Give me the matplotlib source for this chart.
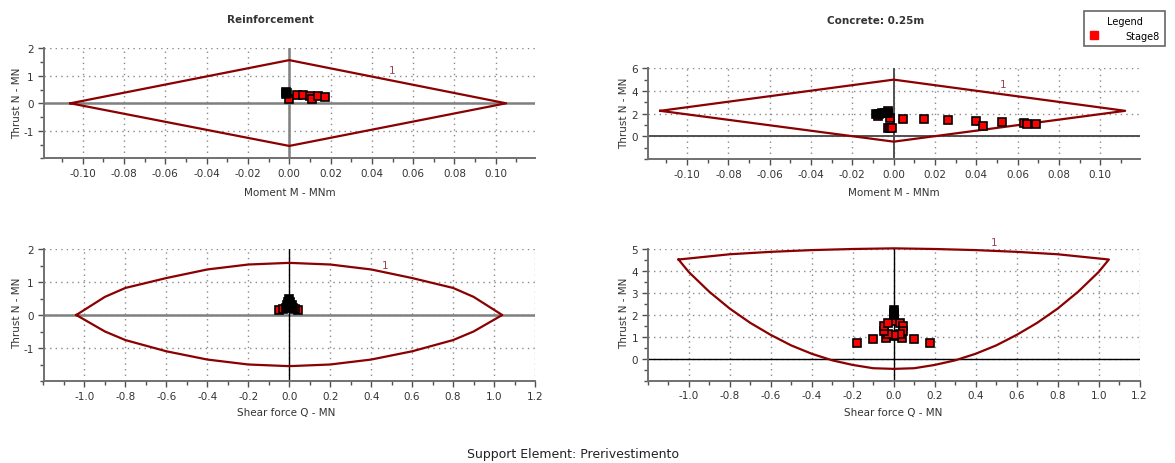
import matplotlib
matplotlib.use('Agg')
import matplotlib.pyplot as plt
from matplotlib.lines import Line2D
from matplotlib.ticker import FuncFormatter, MultipleLocator

# Reinforcement: moment - thrust envelope
rm_env_M = [-0.106, 0.0, 0.105, 0.0, -0.106]
rm_env_N = [0.0, 1.57, 0.0, -1.55, 0.0]
rm_red_M = [0.0, 0.0037, 0.0068, 0.010, 0.0108, 0.0137, 0.0173]
rm_red_N = [0.16, 0.30, 0.29, 0.27, 0.17, 0.25, 0.23]
rm_blk_M = [-0.0018, -0.0012, -0.0015]
rm_blk_N = [0.42, 0.38, 0.35]

# Concrete 0.25m: moment - thrust envelope
cm_env_M = [-0.113, 0.0, 0.112, 0.0, -0.113]
cm_env_N = [2.25, 5.0, 2.25, -0.47, 2.25]
cm_red_M = [-0.0075, -0.0026, -0.0016, 0.0047, 0.0148, 0.0264, 0.0397, 0.043, 0.0524, 0.063, 0.0645, 0.0687, -0.003, -0.002, -0.001]
cm_red_N = [1.8, 2.22, 1.66, 1.57, 1.49, 1.40, 1.32, 0.89, 1.26, 1.20, 1.06, 1.12, 0.72, 0.72, 0.72]
cm_blk_M = [-0.0085, -0.007, -0.0055, -0.004, -0.003]
cm_blk_N = [1.95, 2.0, 2.05, 2.1, 2.1]

# Reinforcement: shear - thrust envelope
rq_env_Q = [-1.04, -0.9, -0.8, -0.6, -0.4, -0.2, 0.0, 0.2, 0.4, 0.6, 0.8, 0.9, 1.04,
            0.9, 0.8, 0.6, 0.4, 0.2, 0.0, -0.2, -0.4, -0.6, -0.8, -0.9, -1.04]
rq_env_N = [0.0, 0.55, 0.82, 1.12, 1.38, 1.53, 1.58, 1.53, 1.38, 1.12, 0.82, 0.55, 0.0,
            -0.5, -0.76, -1.1, -1.35, -1.5, -1.55, -1.5, -1.35, -1.1, -0.76, -0.5, 0.0]
rq_red_Q = [-0.049, 0.044, -0.03, 0.03]
rq_red_N = [0.15, 0.15, 0.19, 0.19]
rq_blk_Q = [0.0, -0.006, 0.006, -0.012, 0.012, -0.014, 0.016, 0.0]
rq_blk_N = [0.47, 0.40, 0.40, 0.31, 0.31, 0.22, 0.22, 0.26]

# Concrete 0.25m: shear - thrust envelope
cq_env_Q = [-1.05, -0.8, -0.6, -0.4, -0.2, 0.0, 0.2, 0.4, 0.6, 0.8, 1.05,
            1.0, 0.9, 0.8, 0.7, 0.6, 0.5, 0.4, 0.3, 0.2, 0.1, 0.0,
            -0.1, -0.2, -0.3, -0.4, -0.5, -0.6, -0.7, -0.8, -0.9, -1.0, -1.05]
cq_env_N = [4.52, 4.76, 4.87, 4.95, 5.0, 5.03, 5.0, 4.95, 4.87, 4.76, 4.52,
            3.95, 3.05, 2.28, 1.63, 1.08, 0.6, 0.22, -0.08, -0.29, -0.44, -0.47,
            -0.44, -0.29, -0.08, 0.22, 0.6, 1.08, 1.63, 2.28, 3.05, 3.95, 4.52]
cq_red_Q = [-0.18, -0.099, -0.040, 0.040, 0.10, 0.178, 0.0,
            0.0, 0.03, 0.046, 0.046, 0.03, 0.0, -0.03, -0.046, -0.046, -0.03]
cq_red_N = [0.70, 0.91, 0.96, 0.96, 0.88, 0.70, 1.02,
            1.72, 1.64, 1.48, 1.26, 1.12, 1.06, 1.12, 1.26, 1.48, 1.64]
cq_blk_Q = [0.0, 0.0, 0.0]
cq_blk_N = [2.2, 2.1, 2.0]

W, H = 1175, 464
env_color = '#8b0000'
grid_color = '#8a8a8a'
text_color = '#333333'

plt.rcParams['font.family'] = ['DejaVu Sans']
fig = plt.figure(figsize=(W / 100, H / 100), dpi=100)


def rect(x0, x1, ytop, ybot):
    return [x0 / W, 1 - ybot / H, (x1 - x0) / W, (ybot - ytop) / H]


def fmt(dec):
    return FuncFormatter(lambda v, p: ('%.' + str(dec) + 'f') % (0 if abs(v) < 1e-9 else v))


def setup(ax, xlim, ylim, xticks, xminor, yticks, yminor, xdec, hcol, vcol, hlw, vlw):
    ax.set_xlim(*xlim)
    ax.set_ylim(*ylim)
    ax.set_xticks(xticks)
    ax.set_yticks(yticks)
    ax.xaxis.set_minor_locator(MultipleLocator(xminor))
    ax.yaxis.set_minor_locator(MultipleLocator(yminor))
    ax.xaxis.set_major_formatter(fmt(xdec))
    ax.yaxis.set_major_formatter(FuncFormatter(lambda v, p: '%d' % round(v)))
    for s in ['top', 'right']:
        ax.spines[s].set_visible(False)
    for s in ['left', 'bottom']:
        ax.spines[s].set_color('#707070')
        ax.spines[s].set_linewidth(1.4)
    ax.tick_params(which='both', colors='#505050', labelcolor=text_color, labelsize=7.5,
                   direction='out', width=1.0)
    ax.tick_params(which='major', length=4, pad=3)
    ax.tick_params(which='minor', length=3)
    ax.grid(True, which='major', linestyle=(0, (1, 3)), color=grid_color, linewidth=1.0)
    ax.axhline(0, color=hcol, linewidth=hlw, zorder=2)
    ax.axvline(0, color=vcol, linewidth=vlw, zorder=2)


def points(ax, xr, yr, xb, yb):
    ax.plot(xr, yr, 's', markersize=5.5, markerfacecolor='red', markeredgecolor='black',
            markeredgewidth=1.2, zorder=4, clip_on=False)
    ax.plot(xb, yb, 's', markersize=5.5, markerfacecolor='black', markeredgecolor='black',
            markeredgewidth=1.2, zorder=5, clip_on=False)


# top left
ax1 = fig.add_axes(rect(43.5, 535, 49.3, 159.3))
setup(ax1, (-0.119, 0.119), (-2, 2), [-0.1, -0.08, -0.06, -0.04, -0.02, 0, 0.02, 0.04, 0.06, 0.08, 0.1],
      0.01, [-1, 0, 1, 2], 0.5, 2, '#808080', '#808080', 1.8, 1.8)
ax1.plot(rm_env_M, rm_env_N, color=env_color, linewidth=1.6, zorder=3, clip_on=False)
points(ax1, rm_red_M, rm_red_N, rm_blk_M, rm_blk_N)
ax1.text(0.05, 1.2, '1', color='#a0405a', fontsize=7.5, ha='center', va='center')

# top right
ax2 = fig.add_axes(rect(647.8, 1139.6, 69.3, 160))
setup(ax2, (-0.119, 0.119), (-2, 6), [-0.1, -0.08, -0.06, -0.04, -0.02, 0, 0.02, 0.04, 0.06, 0.08, 0.1],
      0.01, [0, 2, 4, 6], 1, 2, '#505050', '#505050', 1.4, 1.4)
ax2.plot(cm_env_M, cm_env_N, color=env_color, linewidth=1.6, zorder=3, clip_on=False)
points(ax2, cm_red_M, cm_red_N, cm_blk_M, cm_blk_N)
ax2.text(0.053, 4.6, '1', color='#a0405a', fontsize=7.5, ha='center', va='center')

# bottom left
ax3 = fig.add_axes(rect(43.5, 535, 250, 382))
setup(ax3, (-1.2, 1.2), (-2, 2), [-1.0, -0.8, -0.6, -0.4, -0.2, 0, 0.2, 0.4, 0.6, 0.8, 1.0, 1.2],
      0.1, [-1, 0, 1, 2], 0.5, 1, '#808080', 'black', 1.8, 1.0)
ax3.plot(rq_env_Q, rq_env_N, color=env_color, linewidth=1.6, zorder=3, clip_on=False)
points(ax3, rq_red_Q, rq_red_N, rq_blk_Q, rq_blk_N)
ax3.text(0.47, 1.53, '1', color='#a0405a', fontsize=7.5, ha='center', va='center')

# bottom right
ax4 = fig.add_axes(rect(647.8, 1139.6, 250, 381.5))
setup(ax4, (-1.2, 1.2), (-1, 5), [-1.0, -0.8, -0.6, -0.4, -0.2, 0, 0.2, 0.4, 0.6, 0.8, 1.0, 1.2],
      0.1, [0, 1, 2, 3, 4, 5], 0.5, 1, 'black', 'black', 1.0, 1.0)
ax4.plot(cq_env_Q, cq_env_N, color=env_color, linewidth=1.6, zorder=3, clip_on=False)
points(ax4, cq_red_Q, cq_red_N, cq_blk_Q, cq_blk_N)
ax4.text(0.49, 5.34, '1', color='#a0405a', fontsize=7.5, ha='center', va='center', clip_on=False)

# titles and axis labels
lab = dict(fontsize=7.5, color=text_color, ha='center', va='center')
fig.text(270 / W, 1 - 20 / H, 'Reinforcement', fontweight='bold', **lab)
fig.text(876 / W, 1 - 20.5 / H, 'Concrete: 0.25m', fontweight='bold', **lab)
fig.text(290 / W, 1 - 192.7 / H, 'Moment M - MNm', **lab)
fig.text(893.7 / W, 1 - 192.7 / H, 'Moment M - MNm', **lab)
fig.text(286 / W, 1 - 413 / H, 'Shear force Q - MN', **lab)
fig.text(893 / W, 1 - 413 / H, 'Shear force Q - MN', **lab)
fig.text(17 / W, 1 - 103 / H, 'Thrust N - MN', rotation=90, **lab)
fig.text(623.7 / W, 1 - 113 / H, 'Thrust N - MN', rotation=90, **lab)
fig.text(17 / W, 1 - 313 / H, 'Thrust N - MN', rotation=90, **lab)
fig.text(623.7 / W, 1 - 313 / H, 'Thrust N - MN', rotation=90, **lab)
fig.text(573 / W, 1 - 455 / H, 'Support Element: Prerivestimento', fontsize=9, color='#222222',
         ha='center', va='center')

# legend
handle = Line2D([], [], marker='s', color='red', linestyle='none', markersize=6)
leg = fig.legend([handle], ['Stage8'], title='Legend', loc='upper left',
                 bbox_to_anchor=(1084 / W, 1 - 12 / H), frameon=True, fancybox=False,
                 fontsize=7, title_fontsize=7, handletextpad=2.8, borderpad=0.5,
                 handlelength=1.0, borderaxespad=0)
leg.get_frame().set_edgecolor('#404040')
leg.get_frame().set_linewidth(1.2)

fig.savefig('out.png', dpi=100)
